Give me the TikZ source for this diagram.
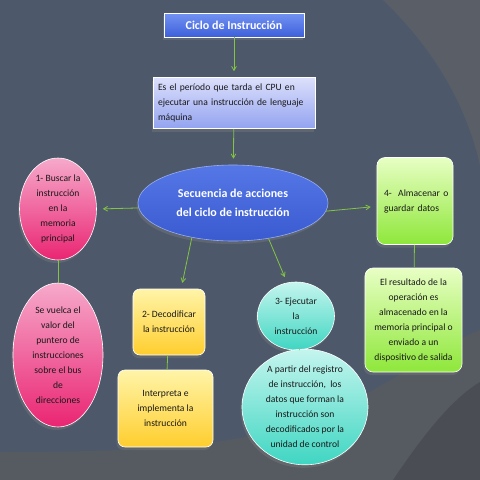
\documentclass[tikz,border=0pt]{standalone}
\usepackage{fontspec}
\setmainfont{Carlito}
\usepackage{tikz}
\usetikzlibrary{arrows,shapes.geometric,shadows}
\definecolor{fondo}{HTML}{4D596A}
\definecolor{fondoclaro}{HTML}{5A5F67}
\definecolor{fondobajo}{HTML}{565A61}
\definecolor{fondooscuro}{HTML}{4A4D53}
\definecolor{flecha}{HTML}{84C443}
\definecolor{tituloA}{HTML}{7393F2}
\definecolor{tituloB}{HTML}{3D5FDA}
\definecolor{lilaA}{HTML}{DCE0FB}
\definecolor{lilaB}{HTML}{93A3F0}
\definecolor{seqA}{HTML}{5577E6}
\definecolor{seqB}{HTML}{3A5AD0}
\definecolor{rosaA}{HTML}{F6A9CB}
\definecolor{rosaB}{HTML}{EA2572}
\definecolor{amarA}{HTML}{FFF4A8}
\definecolor{amarB}{HTML}{FFCE2E}
\definecolor{turqA}{HTML}{C4F5EE}
\definecolor{turqB}{HTML}{3FD6C2}
\definecolor{verdeA}{HTML}{E8FFC4}
\definecolor{verdeB}{HTML}{8EE73A}
\newcommand{\cuerpo}{\fontsize{9.6}{15}\selectfont}
\newcommand{\grande}{\fontsize{12}{19}\selectfont\bfseries}
\newcommand{\linea}[1]{\makebox[152pt][s]{#1}}
\tikzset{
  base/.style={draw=white!70, line width=0.6pt, inner sep=0pt, align=center,
    text=black!90, font=\cuerpo,
    drop shadow={opacity=0.35, shadow xshift=-1.5pt, shadow yshift=-3pt}},
  azul/.style={base, rectangle, top color=tituloA, bottom color=tituloB, text=white, font=\grande},
  lila/.style={base, rectangle, top color=lilaA, bottom color=lilaB, align=left},
  secuencia/.style={base, ellipse, top color=seqA, bottom color=seqB, draw=seqA!60!white, text=white, font=\grande},
  rosa/.style={base, ellipse, top color=rosaA, bottom color=rosaB},
  amarilla/.style={base, rectangle, rounded corners=7pt, top color=amarA, bottom color=amarB},
  turquesa/.style={base, ellipse, top color=turqA, bottom color=turqB},
  verde/.style={base, rectangle, rounded corners=8pt, top color=verdeA, bottom color=verdeB},
  conn/.style={flecha, line width=0.8pt}
}
\begin{document}
\begin{tikzpicture}[x=1pt,y=-1pt]
\useasboundingbox (0,0) rectangle (480,480);
% fondo
\fill[fondo] (0,0) rectangle (480,480);
\fill[fondoclaro] (383,0) .. controls (430,45) and (465,100) .. (480,165) -- (480,0) -- cycle;
\fill[fondobajo] (0,452) .. controls (130,452) and (250,448) .. (330,412) .. controls (390,385) and (440,345) .. (480,330) -- (480,480) -- (0,480) -- cycle;
\fill[fondooscuro] (393,480) .. controls (420,440) and (450,400) .. (480,382) -- (480,480) -- cycle;
% nodos
\node[azul, minimum width=140, minimum height=24] (titulo) at (234,25) {Ciclo de Instrucción};
\node[lila, minimum width=162, minimum height=51, text width=152] (periodo) at (234,103)
  {\linea{Es el período que tarda el CPU en}\\ \linea{ejecutar una instrucción de lenguaje}\\ máquina};
\node[secuencia, minimum width=190, minimum height=76] (seq) at (233,203)
  {Secuencia de acciones\\ del ciclo de instrucción};
\node[rosa, minimum width=77, minimum height=102] (busca) at (58,209)
  {1- Buscar la\\ instrucción\\ en la\\ memoria\\ principal};
\node[rosa, minimum width=90, minimum height=144] (vuelca) at (58,355)
  {Se vuelca el\\ valor del\\ puntero de\\ instrucciones\\ sobre el bus\\ de\\ direcciones};
\node[amarilla, minimum width=72, minimum height=66] (deco) at (169,322)
  {2- Decodificar\\ la instrucción};
\node[amarilla, minimum width=95, minimum height=77] (interp) at (165.5,408.5)
  {Interpreta e\\ implementa la\\ instrucción};
\node[turquesa, minimum width=77, minimum height=68] (ejec) at (296,316)
  {3- Ejecutar\\ la\\ instrucción};
\node[turquesa, minimum width=126, minimum height=95] (partir) at (305,407)
  {A partir del registro\\ de instrucción,~ los\\ datos que forman la\\ instrucción son\\ decodificados por la\\ unidad de control};
\node[verde, minimum width=76, minimum height=87, text width=62, align=left] (alma) at (415,201)
  {\mbox{4-\ \ Almacenar\ o}\\ guardar datos};
\node[verde, minimum width=97, minimum height=104] (resul) at (413.5,320)
  {El resultado de la\\ operación es\\ almacenado en la\\ memoria principal o\\ enviado a un\\ dispositivo de salida};
% conectores
\path[conn,->,>=angle 60,shorten >=6pt]
(titulo) edge (periodo)
(periodo) edge (seq)
(seq.183) edge (busca.east)
(seq.220) edge (deco.70)
(seq.315) edge (ejec.105)
(seq.355) edge (alma.188);
\path[conn]
(busca) edge (vuelca)
(deco) edge (interp)
(ejec) edge (partir)
(alma) edge (resul);
\end{tikzpicture}
\end{document}
